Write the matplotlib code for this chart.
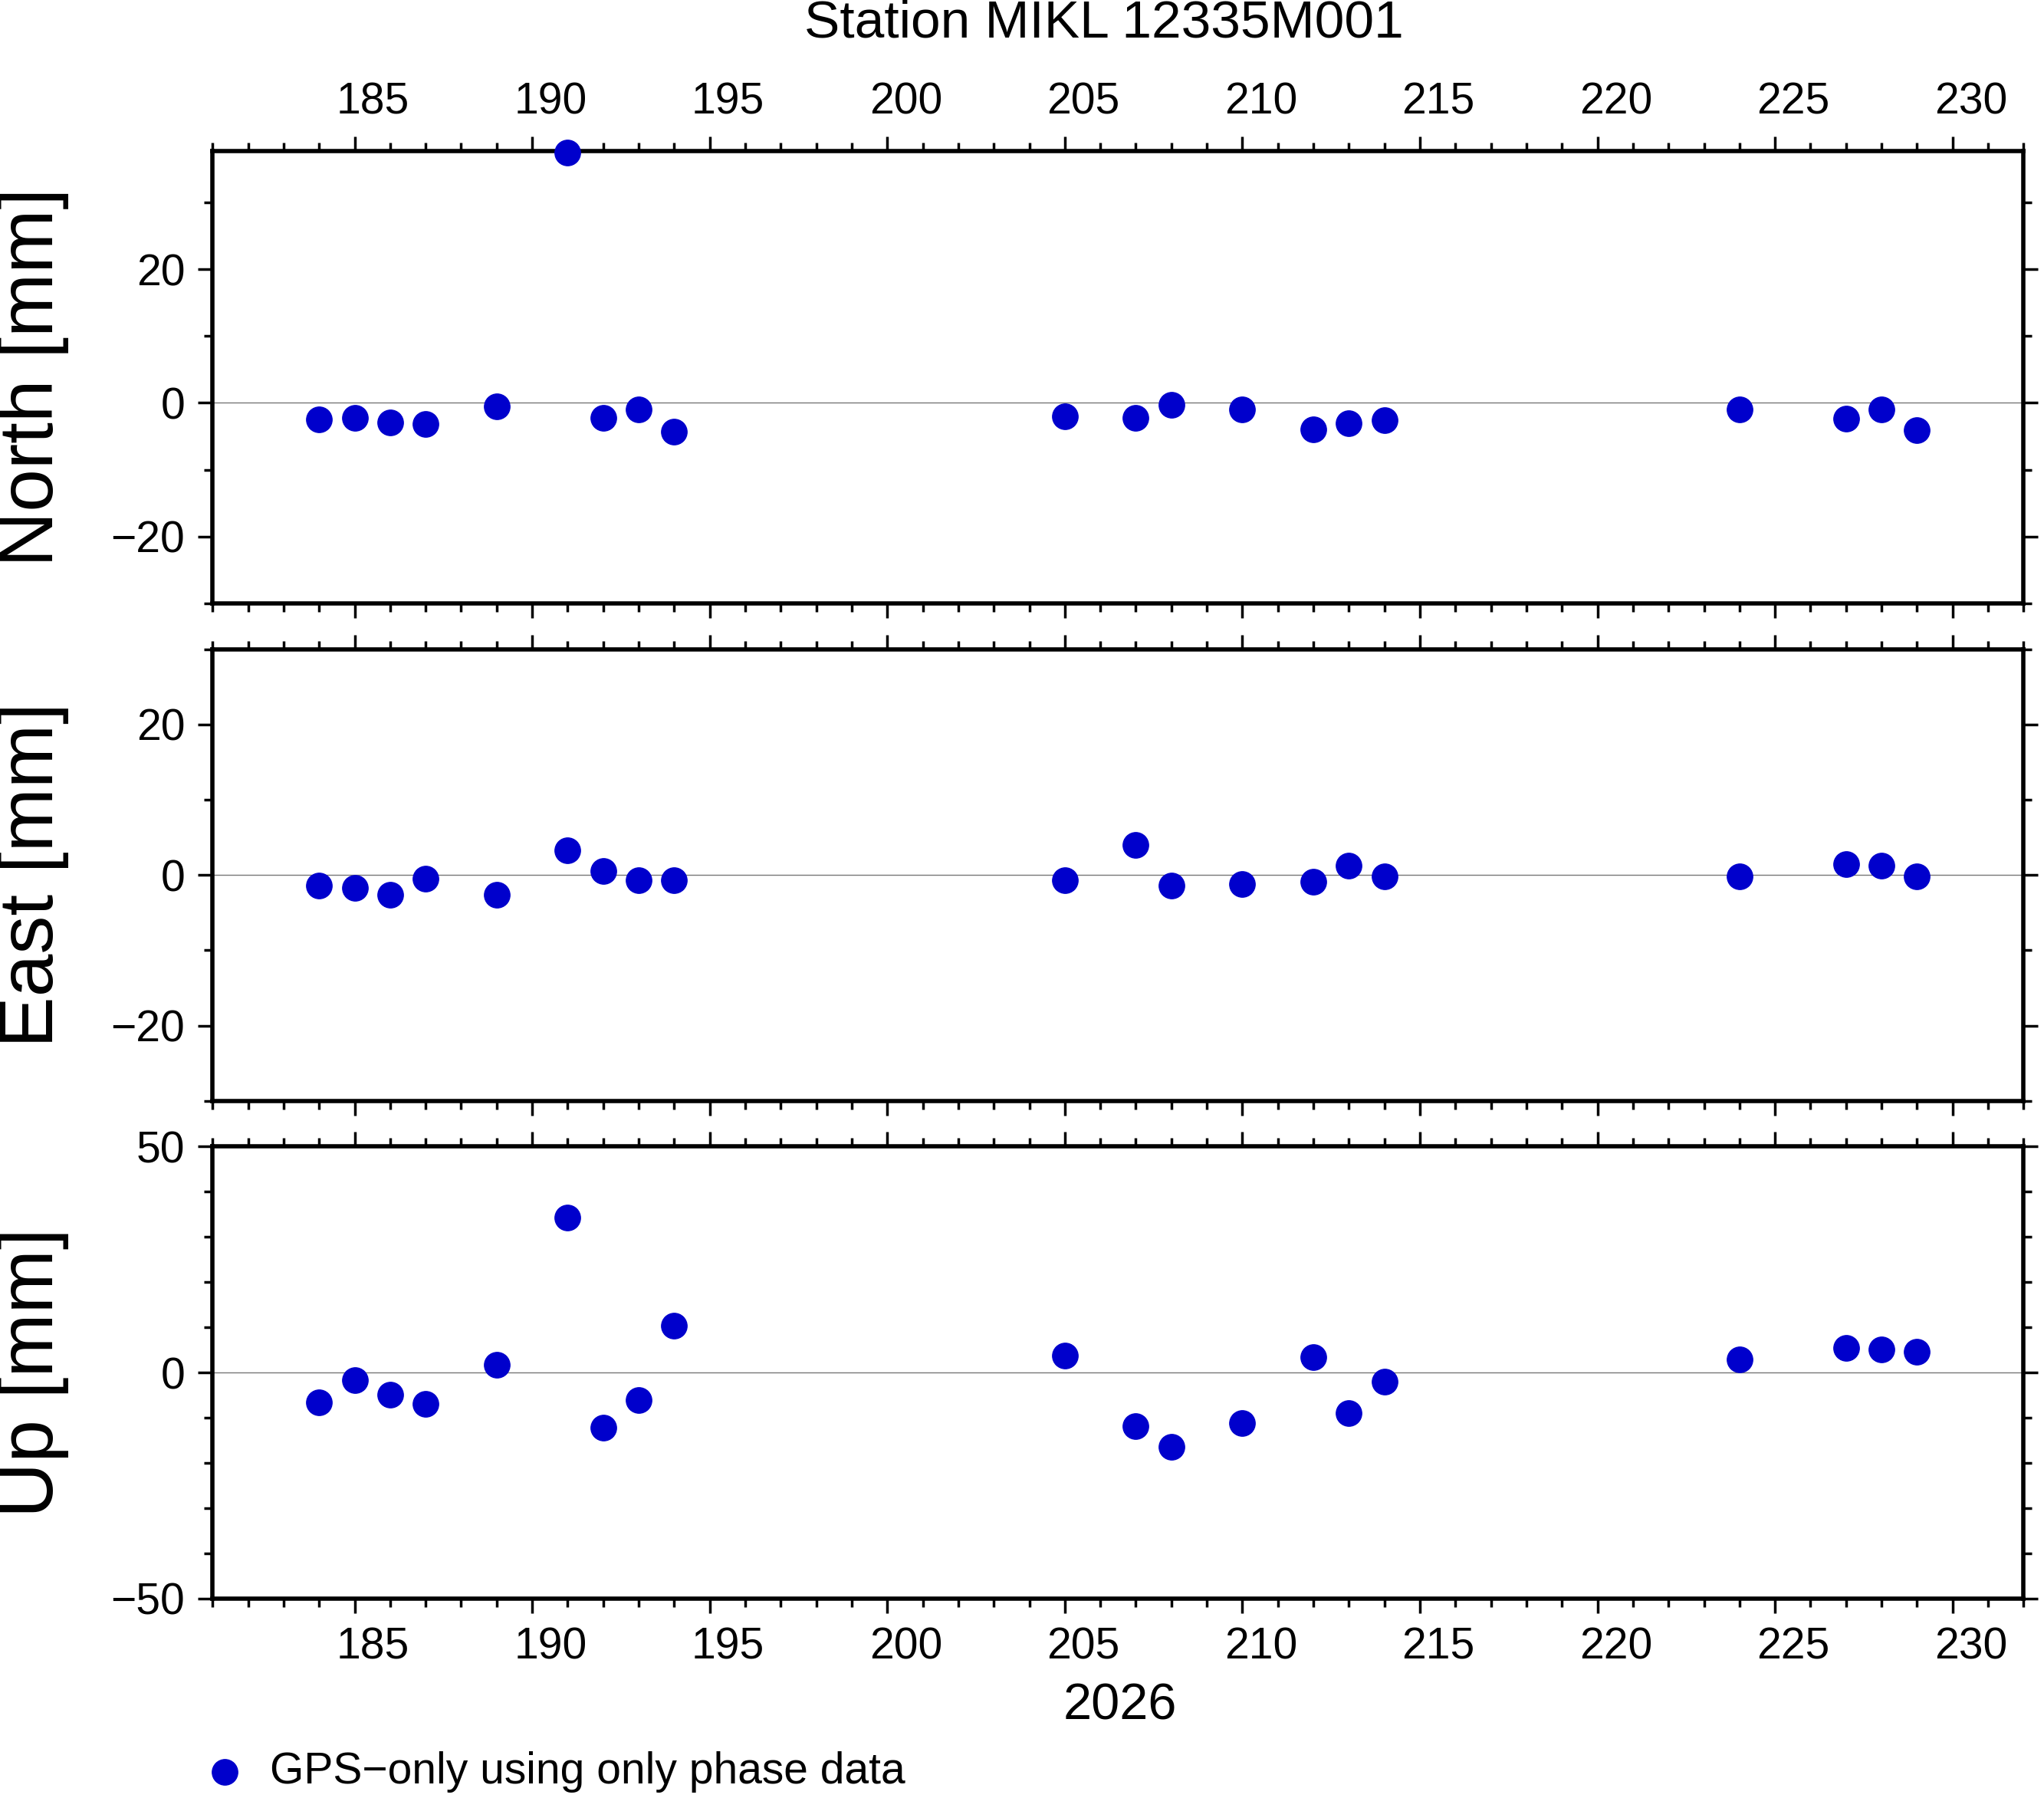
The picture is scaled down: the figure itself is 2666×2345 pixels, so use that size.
import matplotlib
matplotlib.use('Agg')
import matplotlib.pyplot as plt
import matplotlib.transforms as mtransforms
from matplotlib.ticker import MultipleLocator

plt.rcParams['font.family'] = ['Liberation Sans', 'DejaVu Sans']

days = [184, 185, 186, 187, 189, 191, 192, 193, 194, 205, 207, 208, 210, 212, 213, 214, 224, 227, 228, 229]
north = [-2.5, -2.3, -2.9, -3.2, -0.5, 37.5, -2.2, -1.0, -4.3, -2.0, -2.2, -0.3, -1.0, -4.0, -3.0, -2.6, -1.0, -2.4, -1.0, -4.1]
east = [-1.4, -1.7, -2.6, -0.5, -2.6, 3.3, 0.5, -0.7, -0.7, -0.7, 4.0, -1.4, -1.2, -0.9, 1.2, -0.2, -0.2, 1.4, 1.2, -0.2]
up = [-6.6, -1.7, -4.9, -6.9, 1.7, 34.3, -12.1, -6.1, 10.4, 3.7, -11.8, -16.4, -11.2, 3.5, -8.9, -2.0, 2.9, 5.5, 5.2, 4.6]

panels = [("North [mm]", north, (-30, 37.7), 20, 10),
          ("East [mm]", east, (-30, 30), 20, 10),
          ("Up [mm]", up, (-50, 50), 50, 10)]
rects = [(0.916, 0.6645), (0.639, 0.3877), (0.3623, 0.1109)]
color = '#0000CC'

fig = plt.figure(figsize=(26.66, 23.45), dpi=100)
shift = mtransforms.ScaledTranslation(0.24, 0, fig.dpi_scale_trans)
for i, ((label, vals, ylim, major, minor), (top, bot)) in enumerate(zip(panels, rects)):
    ax = fig.add_axes([0.104, bot, 0.886, top - bot])
    ax.axhline(0, color='#777777', lw=1.0, zorder=1)
    ax.plot(days, vals, 'o', color=color, ms=24, clip_on=False, zorder=3)
    ax.set_xlim(181, 232)
    ax.set_ylim(*ylim)
    ax.xaxis.set_major_locator(MultipleLocator(5))
    ax.xaxis.set_minor_locator(MultipleLocator(1))
    ax.yaxis.set_major_locator(MultipleLocator(major))
    ax.yaxis.set_minor_locator(MultipleLocator(minor))
    for s in ax.spines.values():
        s.set_linewidth(4)
    ax.tick_params(which='both', direction='out', top=True, right=True, width=2.5, labelsize=41, pad=12)
    ax.tick_params(which='major', length=14)
    ax.tick_params(which='minor', length=8)
    ax.tick_params(axis='x', labeltop=(i == 0), labelbottom=(i == 2))
    for lab in ax.get_xticklabels(which='major'):
        lab.set_transform(lab.get_transform() + shift)
    fig.text(0.016, (top + bot) / 2, label, rotation=90, ha='center', va='center', fontsize=72)

fig.text(0.54, 0.987, "Station MIKL 12335M001", ha='center', va='center', fontsize=50)
fig.text(0.548, 0.051, "2026", ha='center', va='center', fontsize=48)
fig.lines.append(plt.Line2D([0.110], [0.0145], marker='o', color=color, ms=24, ls='none', transform=fig.transFigure))
fig.text(0.132, 0.0145, "GPS\u2212only using only phase data", ha='left', va='center', fontsize=41)

fig.savefig('out.png', dpi=100)
